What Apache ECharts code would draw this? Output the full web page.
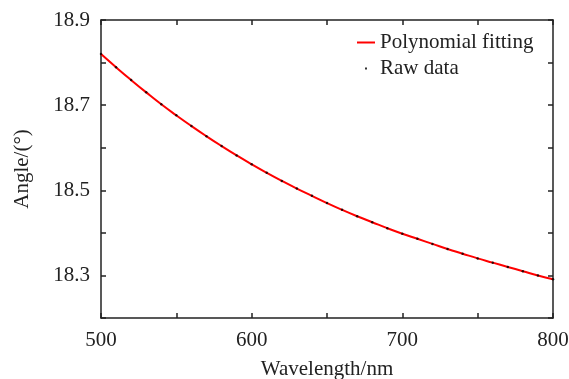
<!DOCTYPE html>
<html>
<head>
<meta charset="utf-8">
<script src="https://cdn.jsdelivr.net/npm/echarts@6/dist/echarts.min.js"></script>
<style>
html,body{margin:0;padding:0;background:#fff;}
#chart{width:569px;height:379px;}
</style>
</head>
<body>
<div id="chart"></div>
<script>
// Wavelength (nm)
const wavelengths = [500,510,520,530,540,550,560,570,580,590,600,610,620,630,640,650,660,670,680,690,700,710,720,730,740,750,760,770,780,790,800];
// Angle (deg) - polynomial fitting
const fitAngles = [18.820,18.789,18.759,18.730,18.702,18.676,18.651,18.627,18.604,18.582,18.561,18.541,18.522,18.504,18.487,18.470,18.454,18.439,18.425,18.411,18.398,18.386,18.374,18.362,18.351,18.340,18.330,18.320,18.310,18.300,18.291];
// Angle (deg) - raw data
const rawAngles = [18.820,18.789,18.759,18.730,18.702,18.676,18.651,18.627,18.604,18.582,18.561,18.541,18.522,18.504,18.487,18.470,18.454,18.439,18.425,18.411,18.398,18.386,18.374,18.362,18.351,18.340,18.330,18.320,18.310,18.300,18.291];
const xTickLabels = [500,600,700,800];
const yTickLabels = ['18.3','18.5','18.7','18.9'];

const FONT = 'Liberation Serif';
const axisColor = '#222';
const fitData = wavelengths.map((w,i)=>[w,fitAngles[i]]);
const rawData = wavelengths.map((w,i)=>[w,rawAngles[i]]);

const baseX = {
  type:'value', min:500, max:800, interval:50,
  axisLine:{show:true,onZero:false,lineStyle:{color:axisColor,width:1.5}},
  axisTick:{show:true,inside:true,length:5,lineStyle:{color:axisColor,width:1.5}},
  splitLine:{show:false}
};
const baseY = {
  type:'value', min:18.2, max:18.9, interval:0.1,
  axisLine:{show:true,onZero:false,lineStyle:{color:axisColor,width:1.5}},
  axisTick:{show:true,inside:true,length:5,lineStyle:{color:axisColor,width:1.5}},
  splitLine:{show:false}
};

const chart = echarts.init(document.getElementById('chart'));
chart.setOption({
  animation:false,
  backgroundColor:'#fff',
  textStyle:{fontFamily:FONT},
  grid:{left:101,right:16,top:20,bottom:61,containLabel:false,outerBoundsMode:'none'},
  legend:{
    left:357, top:32, orient:'vertical', padding:0,
    itemWidth:18, itemHeight:12, itemGap:5, itemTextGap:6,
    textStyle:{fontFamily:FONT,fontSize:21,color:'#222',lineHeight:21},
    data:[
      {name:'Polynomial fitting', icon:'path://M0,0h36v4h-36z', itemStyle:{color:'#ff0000'}},
      {name:'Raw data', icon:'path://M0,0M36,0M36,24M0,24M16,10h4v4h-4z', itemStyle:{color:'#000'}}
    ]
  },
  xAxis:[
    Object.assign({}, baseX, {
      position:'bottom',
      name:'Wavelength/nm', nameLocation:'middle', nameGap:41,
      nameTextStyle:{fontFamily:FONT,fontSize:21,color:'#222'},
      axisLabel:{show:true,margin:12,fontFamily:FONT,fontSize:21,color:'#222',
        formatter:v=>xTickLabels.indexOf(Math.round(v))>=0 ? String(Math.round(v)) : ''}
    }),
    Object.assign({}, baseX, {position:'top', axisLabel:{show:false}})
  ],
  yAxis:[
    Object.assign({}, baseY, {
      position:'left',
      name:'Angle/(°)', nameLocation:'middle', nameGap:68,
      nameTextStyle:{fontFamily:FONT,fontSize:21,color:'#222'},
      axisLabel:{show:true,margin:11,fontFamily:FONT,fontSize:21,color:'#222',
        formatter:v=>{const s=v.toFixed(1);return yTickLabels.indexOf(s)>=0?s:'';}}
    }),
    Object.assign({}, baseY, {position:'right', axisLabel:{show:false}})
  ],
  series:[
    {
      name:'Polynomial fitting', type:'line', data:fitData, smooth:true,
      symbol:'none', showSymbol:false, xAxisIndex:0, yAxisIndex:0,
      lineStyle:{color:'#ff0000',width:2}, itemStyle:{color:'#ff0000'}, z:2
    },
    {
      name:'Raw data', type:'scatter', data:rawData, xAxisIndex:0, yAxisIndex:0,
      symbol:'circle', symbolSize:2.5, itemStyle:{color:'#000'}, z:3
    }
  ]
});
</script>
</body>
</html>
